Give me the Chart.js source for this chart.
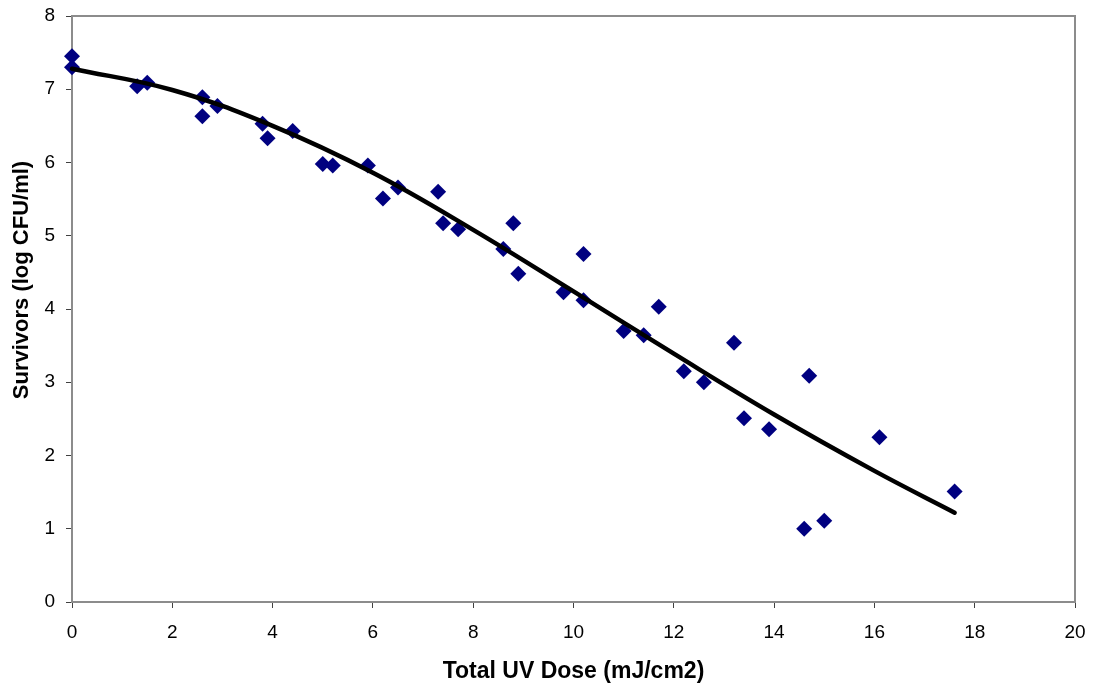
<!DOCTYPE html>
<html>
<head>
<meta charset="utf-8">
<script src="https://cdn.jsdelivr.net/npm/chart.js@4.4.1/dist/chart.umd.min.js"></script>
<style>
  html, body { margin: 0; padding: 0; background: #fff; }
  #wrap { width: 1094px; height: 689px; }
</style>
</head>
<body>
<div id="wrap"><canvas id="chart"></canvas></div>
<script>
// ── Data ────────────────────────────────────────────────────────────

const DOSE = [0, 0, 1.3, 1.5, 2.6, 2.6, 2.9, 3.8, 3.9, 4.4, 5.0, 5.2, 5.9, 6.2, 6.5,
  7.3, 7.4, 7.7, 8.6, 8.8, 8.9, 9.8, 10.2, 10.2, 11.0, 11.4, 11.7, 12.2, 12.6,
  13.2, 13.4, 13.9, 14.6, 14.7, 15.0, 16.1, 17.6];
const SURVIVORS = [7.45, 7.30, 7.04, 7.09, 6.89, 6.63, 6.77, 6.53, 6.33, 6.43, 5.98, 5.96, 5.96, 5.51, 5.66,
  5.60, 5.17, 5.09, 4.82, 5.17, 4.48, 4.23, 4.12, 4.75, 3.70, 3.64, 4.03, 3.15, 3.00,
  3.54, 2.51, 2.36, 1.00, 3.09, 1.11, 2.25, 1.51];

// Trendline, sampled from the drawn curve
const TREND_X = [0, 2, 4, 6, 8, 10, 12, 14, 16, 17.6];
const TREND_Y = [7.28, 6.99, 6.50, 5.86, 5.08, 4.24, 3.39, 2.56, 1.79, 1.22];

const X_TICKS = [0, 2, 4, 6, 8, 10, 12, 14, 16, 18, 20];
const Y_TICKS = [0, 1, 2, 3, 4, 5, 6, 7, 8];

const X_TITLE = 'Total UV Dose (mJ/cm2)';
const Y_TITLE = 'Survivors (log CFU/ml)';

// ── Chart Setup ─────────────────────────────────────────────────────

const FONT = "'Liberation Sans', Arial, sans-serif";

// Gray frame round the plot area, plus axis titles placed like Excel does
const framePlugin = {
  id: 'frame',
  beforeDatasetsDraw(chart) {
    const { left, top, right, bottom } = chart.chartArea;
    const ctx = chart.ctx;
    ctx.save();
    ctx.strokeStyle = '#8c8c8c';
    ctx.lineWidth = 2;
    ctx.strokeRect(left, top, right - left, bottom - top);
    ctx.restore();
  },
  afterDraw(chart) {
    const { left, right } = chart.chartArea;
    const ctx = chart.ctx;
    ctx.save();
    ctx.fillStyle = '#000';
    ctx.textAlign = 'center';
    ctx.textBaseline = 'middle';
    ctx.font = `bold 23px ${FONT}`;
    ctx.fillText(X_TITLE, (left + right) / 2, 672);
    ctx.translate(22, 280);
    ctx.rotate(-Math.PI / 2);
    ctx.font = `bold 22px ${FONT}`;
    ctx.fillText(Y_TITLE, 0, 0);
    ctx.restore();
  }
};

const points = DOSE.map((x, i) => ({ x, y: SURVIVORS[i] }));
const trend = TREND_X.map((x, i) => ({ x, y: TREND_Y[i] }));

new Chart(document.getElementById('chart'), {
  type: 'scatter',
  data: {
    datasets: [
      {
        label: 'Trend',
        type: 'line',
        data: trend,
        borderColor: '#000',
        borderWidth: 4.5,
        borderCapStyle: 'round',
        pointRadius: 0,
        tension: 0.4,
        fill: false,
        clip: false,
        order: 0,
      },
      {
        label: 'Survivors',
        data: points,
        pointStyle: 'rectRot',
        pointRadius: 8,
        backgroundColor: '#000080',
        borderColor: '#000080',
        borderWidth: 0,
        clip: false,
        order: 1,
      },
    ],
  },
  plugins: [framePlugin],
  options: {
    responsive: true,
    maintainAspectRatio: false,
    animation: false,
    layout: { padding: { top: 16, right: 19, left: 0, bottom: 0 } },
    plugins: {
      legend: { display: false },
      tooltip: { enabled: false },
    },
    scales: {
      x: {
        type: 'linear',
        min: 0,
        max: 20,
        afterBuildTicks: s => { s.ticks = X_TICKS.map(v => ({ value: v })); },
        afterFit: s => { s.height = 87; s.paddingLeft = 0; s.paddingRight = 0; },
        border: { display: true, color: '#404040', width: 2 },
        grid: { display: true, drawOnChartArea: false, drawTicks: true, tickLength: 6, color: '#404040', lineWidth: 1 },
        ticks: { color: '#000', font: { family: FONT, size: 19 }, padding: 13, maxRotation: 0 },
      },
      y: {
        type: 'linear',
        min: 0,
        max: 8,
        afterBuildTicks: s => { s.ticks = Y_TICKS.map(v => ({ value: v })); },
        afterFit: s => { s.width = 72; s.paddingTop = 0; s.paddingBottom = 0; },
        border: { display: true, color: '#404040', width: 2 },
        grid: { display: true, drawOnChartArea: false, drawTicks: true, tickLength: 6, color: '#404040', lineWidth: 1 },
        ticks: { color: '#000', font: { family: FONT, size: 19 }, padding: 11 },
      },
    },
  },
});
</script>
</body>
</html>
